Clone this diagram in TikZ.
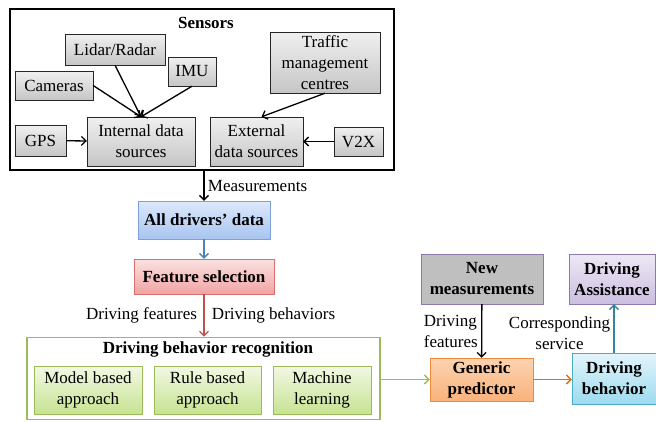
\documentclass[tikz,border=0pt]{standalone}
\usepackage{fontspec}
\setmainfont{Liberation Serif}
\usetikzlibrary{positioning,shadows,arrows.meta,calc}
\newcommand{\diagfont}{\fontsize{17}{21}\selectfont}
\definecolor{bluedraw}{HTML}{7DA1D8}
\definecolor{bluetop}{HTML}{DDE9FB}
\definecolor{bluebot}{HTML}{A8C4F0}
\definecolor{reddraw}{HTML}{D9706E}
\definecolor{redtop}{HTML}{FBE1E1}
\definecolor{redbot}{HTML}{F0A4A3}
\definecolor{greendraw}{HTML}{9BBB59}
\definecolor{greentop}{HTML}{F2F8E4}
\definecolor{greenbot}{HTML}{C6E391}
\definecolor{orangedraw}{HTML}{F08A3A}
\definecolor{orangetop}{HTML}{FCD3B0}
\definecolor{orangebot}{HTML}{F9B27C}
\definecolor{cyandraw}{HTML}{4BACC6}
\definecolor{cyantop}{HTML}{E3F5FB}
\definecolor{cyanbot}{HTML}{9CDBEE}
\definecolor{violetdraw}{HTML}{8E78B0}
\definecolor{violettop}{HTML}{EEE8F5}
\definecolor{violetbot}{HTML}{CBBEE0}
\definecolor{blueline}{HTML}{4F81BD}
\definecolor{redline}{HTML}{C0504D}
\definecolor{orangeline}{HTML}{E46C0A}
\definecolor{tealline}{HTML}{31859C}

\begin{document}
\begin{tikzpicture}[x=1pt, y=-1pt, font=\diagfont, >={Straight Barb[length=4.5pt,width=9pt]},
    frame/.style = {draw=black, line width=1.6pt},
    shade/.style = {drop shadow={shadow xshift=1.3pt, shadow yshift=-1.3pt, opacity=0.4}},
    src/.style = {draw=black!85, top color=gray!12, bottom color=gray!45, align=center, inner sep=1pt, shade},
    colbox/.style n args = {3}{draw=#1, top color=#2, bottom color=#3, align=center, inner sep=1pt, shade},
    title/.style = {font=\diagfont\bfseries, align=center},
    link/.style = {->, line width=1.3pt},
    note/.style = {text=black}]
    \useasboundingbox (0,0) rectangle (656,421);
    % sensors
    \node [frame, minimum width=384pt, minimum height=161pt] (sensors) at (202,89.5) {};
    \node [title] (senstitle) at (206,23) {Sensors};
    \node [src, minimum width=100pt, minimum height=31pt] (lidar) at (115,49.5) {Lidar/Radar};
    \node [src, minimum width=48pt, minimum height=29pt] (imu) at (192,71.5) {IMU};
    \node [src, minimum width=78pt, minimum height=29pt] (cameras) at (54,85.5) {Cameras};
    \node [src, minimum width=110pt, minimum height=61pt] (traffic) at (325,62.5) {Traffic\\management\\centres};
    \node [src, minimum width=51pt, minimum height=31pt] (gps) at (40.5,140.5) {GPS};
    \node [src, minimum width=108pt, minimum height=49pt] (internal) at (141,141.5) {Internal data\\sources};
    \node [src, minimum width=93pt, minimum height=49pt] (external) at (256.5,141.5) {External\\data sources};
    \node [src, minimum width=49pt, minimum height=29pt] (vtwox) at (358.5,141.5) {V2X};
    \draw [link] (cameras.east) -- (internal.north);
    \draw [link] (lidar.south) -- (internal.north);
    \draw [link] (imu.south) -- (internal.north);
    \draw [link] (gps) -- (internal);
    \draw [link] (traffic.south) -- ([xshift=5pt]external.north);
    \draw [link] (vtwox) -- (external);
    % processing chain
    \node [colbox={bluedraw}{bluetop}{bluebot}, title, minimum width=132pt, minimum height=38pt] (alldata) at (204,220) {All drivers' data};
    \node [colbox={reddraw}{redtop}{redbot}, title, minimum width=140pt, minimum height=35pt] (featsel) at (204,276.5) {Feature selection};
    \node [draw=greendraw, line width=1.6pt, minimum width=353pt, minimum height=82pt] (dbr) at (203.5,378.5) {};
    \node [title] (dbrtitle) at (208,349) {Driving behavior recognition};
    \node [colbox={greendraw}{greentop}{greenbot}, minimum width=108pt, minimum height=48pt] (model) at (88,390) {Model based\\approach};
    \node [colbox={greendraw}{greentop}{greenbot}, minimum width=107pt, minimum height=48pt] (rule) at (207.5,390) {Rule based\\approach};
    \node [colbox={greendraw}{greentop}{greenbot}, minimum width=98pt, minimum height=48pt] (machine) at (322,390) {Machine\\learning};
    \draw [link] (sensors.south -| alldata.north) -- node [note, right] {Measurements} (alldata.north);
    \draw [link, blueline] (alldata) -- (featsel);
    \draw [link, redline] (featsel.south) -- node [note, left, xshift=-3pt] {Driving features} node [note, right, xshift=4pt] {Driving behaviors} (featsel.south |- dbr.north);
    % prediction
    \node [colbox={orangedraw}{orangetop}{orangebot}, title, minimum width=103pt, minimum height=43pt] (generic) at (481.5,379.5) {Generic\\predictor};
    \node [draw=violetdraw, fill=gray!50, title, inner sep=1pt, shade, minimum width=122pt, minimum height=50pt] (newmeas) at (482,279) {New\\measurements};
    \node [colbox={violetdraw}{violettop}{violetbot}, title, minimum width=86pt, minimum height=50pt] (assist) at (612,279) {Driving\\Assistance};
    \node [colbox={cyandraw}{cyantop}{cyanbot}, title, minimum width=84pt, minimum height=51pt] (behavior) at (614,378.5) {Driving\\behavior};
    \draw [link, greendraw] (dbr.east |- generic.west) -- (generic.west);
    \draw [link] (newmeas) -- node [note, left, align=left] {Driving\\features} (generic);
    \draw [link, orangeline] (generic.east) -- (generic.east -| behavior.west);
    \draw [link, tealline] (behavior.north) -- node [note, left, align=center, pos=0.4] {Corresponding\\service} (behavior.north |- assist.south);
\end{tikzpicture}
\end{document}
